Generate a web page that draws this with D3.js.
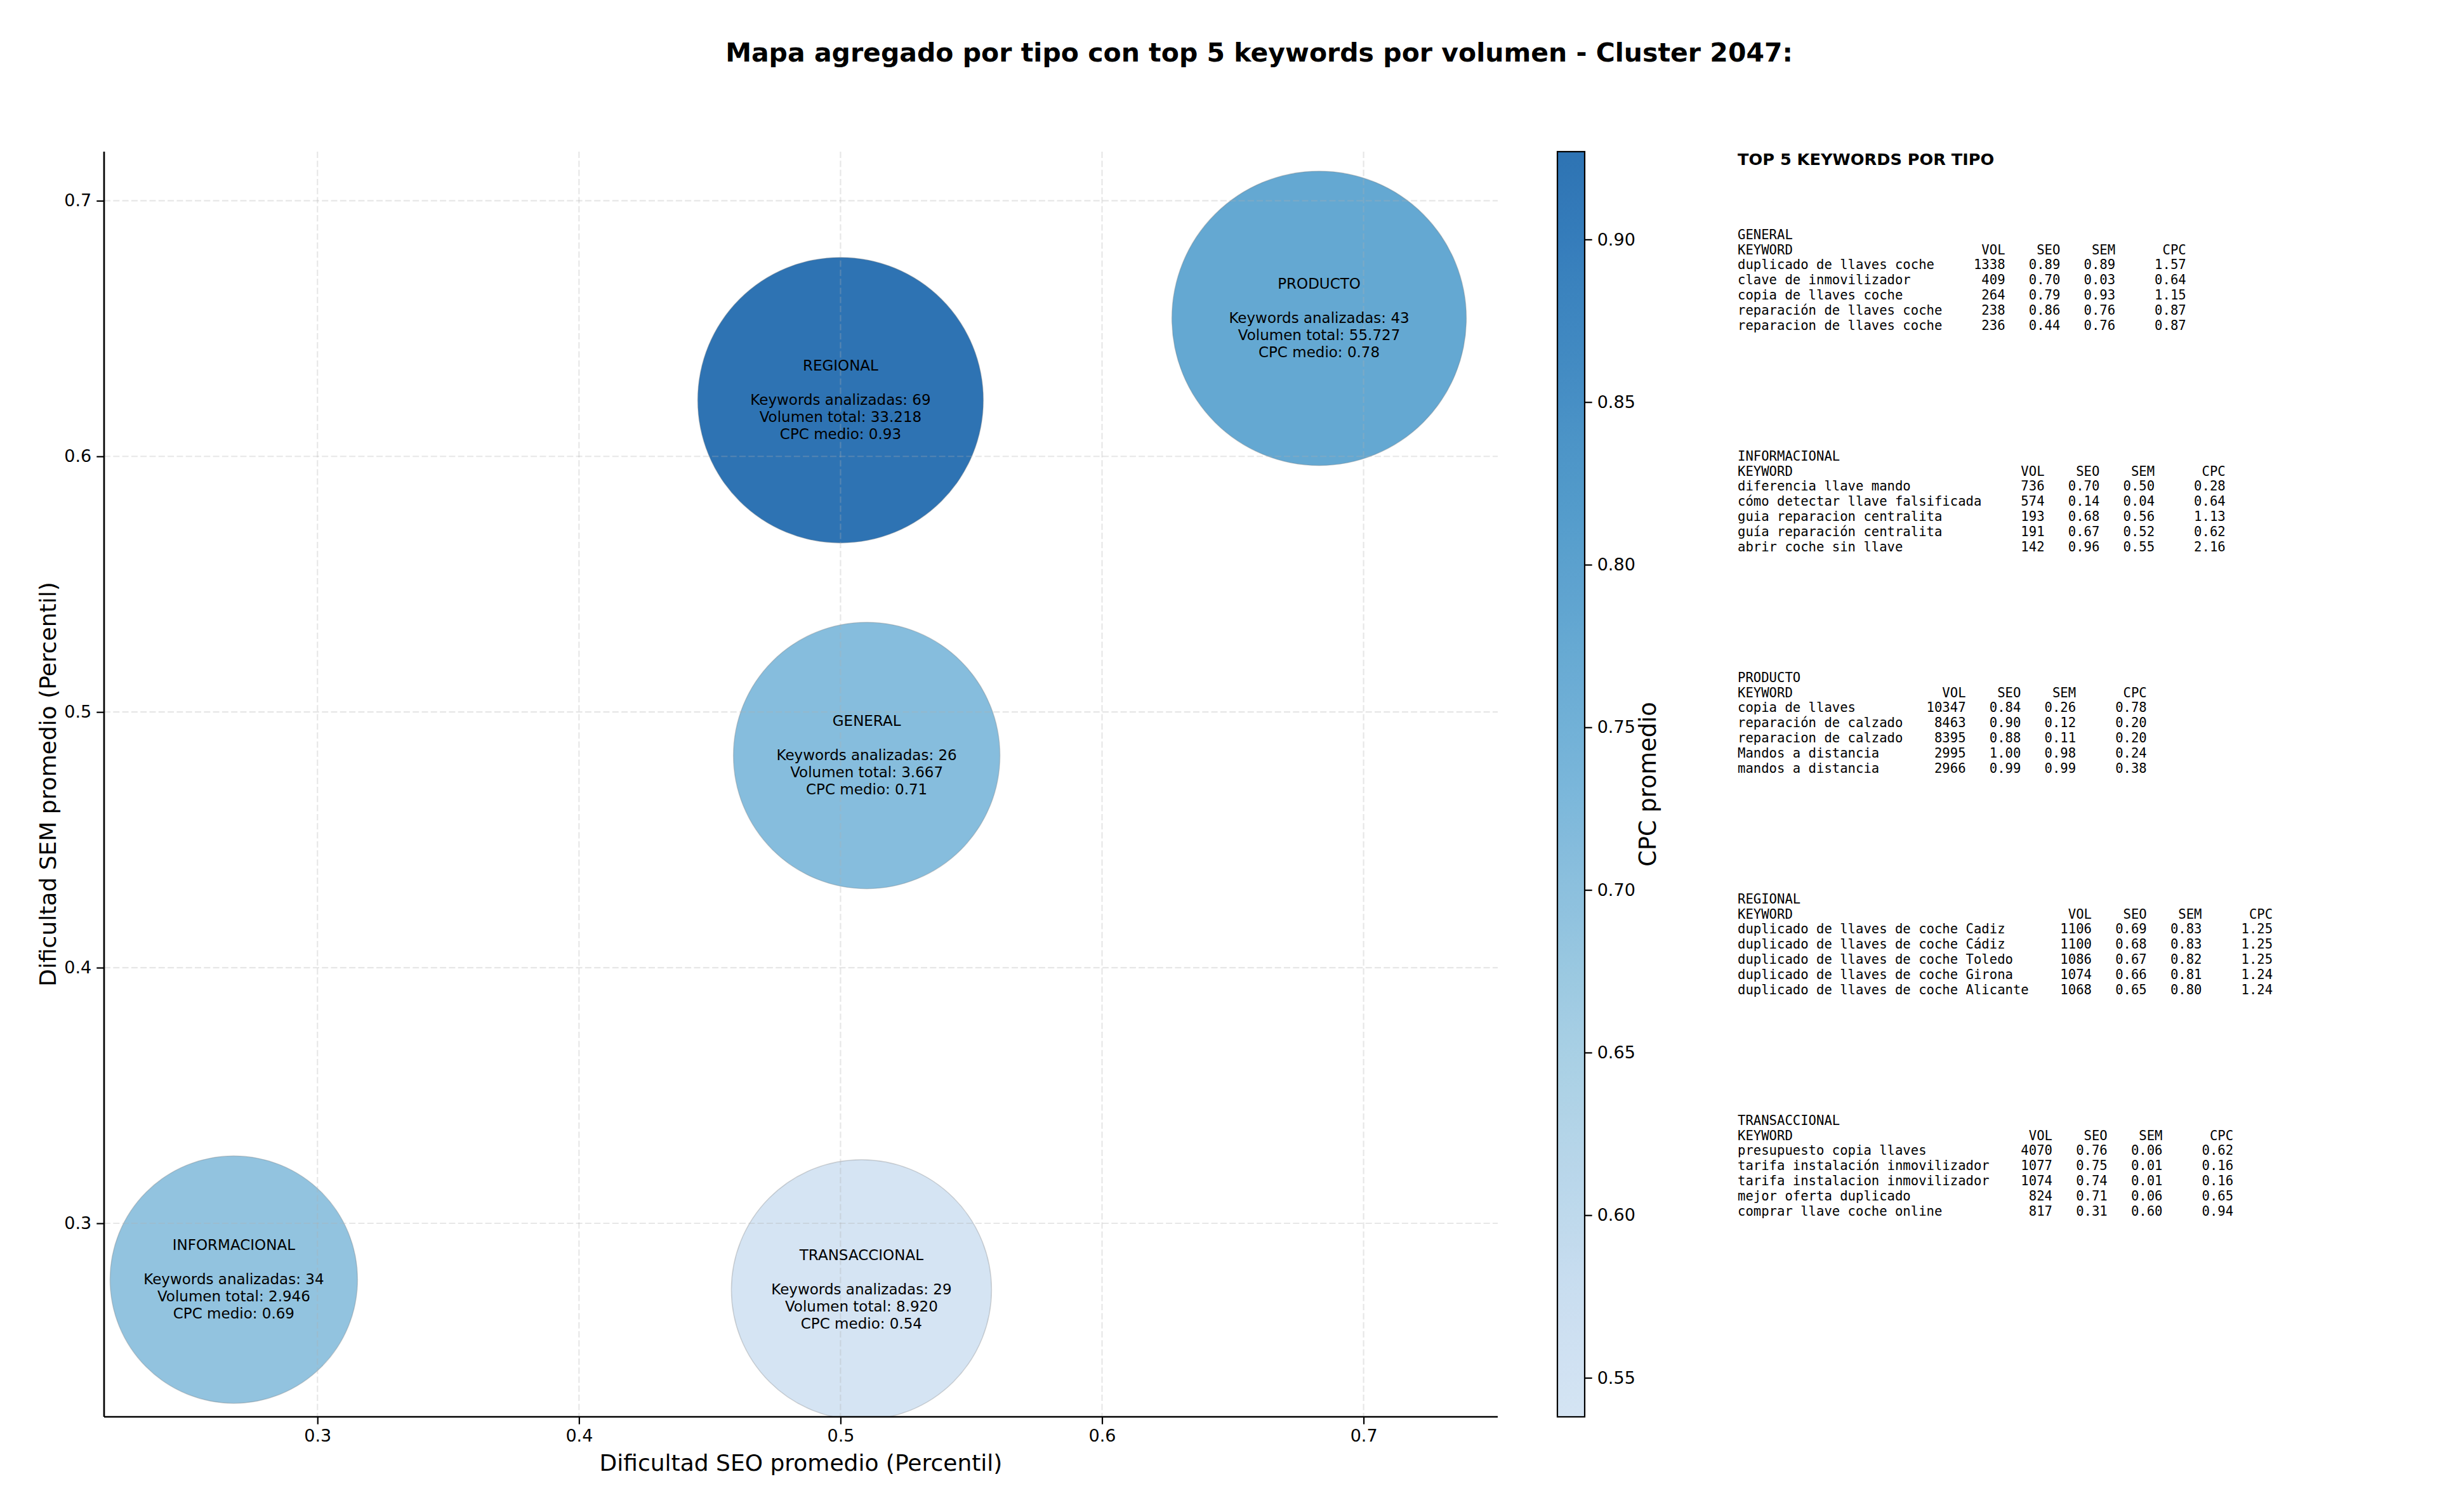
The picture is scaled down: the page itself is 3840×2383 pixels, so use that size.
<!DOCTYPE html>
<html>
<head>
<meta charset="utf-8">
<script src="https://cdn.jsdelivr.net/npm/d3@7"></script>
<style>
html,body{margin:0;padding:0;background:#fff;}
svg{display:block;}
text{font-family:"DejaVu Sans",sans-serif;}
.mono{font-family:"DejaVu Sans Mono",monospace;white-space:pre;}
</style>
</head>
<body>
<script>
// ---------------- DATA ----------------
const types      = ["GENERAL", "INFORMACIONAL", "PRODUCTO", "REGIONAL", "TRANSACCIONAL"];
const seoMean    = [0.510, 0.268, 0.683, 0.500, 0.508];
const semMean    = [0.483, 0.278, 0.654, 0.622, 0.274];
const cpcMean    = [0.71, 0.69, 0.78, 0.927, 0.538];
const kwCount    = [26, 34, 43, 69, 29];
const volTotal   = [3667, 2946, 55727, 33218, 8920];
const bubbleSize = [15876, 13689, 19377, 18225, 15129];   // marker area (pt^2)

const xTicks  = [0.3, 0.4, 0.5, 0.6, 0.7];
const yTicks  = [0.3, 0.4, 0.5, 0.6, 0.7];
const cbTicks = [0.55, 0.60, 0.65, 0.70, 0.75, 0.80, 0.85, 0.90];
const xLimits = [0.2184, 0.7513];
const yLimits = [0.2243, 0.7192];

// top 5 keywords per type: [keyword, VOL, SEO, SEM, CPC]
const topGeneral = [
  ["duplicado de llaves coche", 1338, 0.89, 0.89, 1.57],
  ["clave de inmovilizador", 409, 0.70, 0.03, 0.64],
  ["copia de llaves coche", 264, 0.79, 0.93, 1.15],
  ["reparación de llaves coche", 238, 0.86, 0.76, 0.87],
  ["reparacion de llaves coche", 236, 0.44, 0.76, 0.87]
];
const topInformacional = [
  ["diferencia llave mando", 736, 0.70, 0.50, 0.28],
  ["cómo detectar llave falsificada", 574, 0.14, 0.04, 0.64],
  ["guia reparacion centralita", 193, 0.68, 0.56, 1.13],
  ["guía reparación centralita", 191, 0.67, 0.52, 0.62],
  ["abrir coche sin llave", 142, 0.96, 0.55, 2.16]
];
const topProducto = [
  ["copia de llaves", 10347, 0.84, 0.26, 0.78],
  ["reparación de calzado", 8463, 0.90, 0.12, 0.20],
  ["reparacion de calzado", 8395, 0.88, 0.11, 0.20],
  ["Mandos a distancia", 2995, 1.00, 0.98, 0.24],
  ["mandos a distancia", 2966, 0.99, 0.99, 0.38]
];
const topRegional = [
  ["duplicado de llaves de coche Cadiz", 1106, 0.69, 0.83, 1.25],
  ["duplicado de llaves de coche Cádiz", 1100, 0.68, 0.83, 1.25],
  ["duplicado de llaves de coche Toledo", 1086, 0.67, 0.82, 1.25],
  ["duplicado de llaves de coche Girona", 1074, 0.66, 0.81, 1.24],
  ["duplicado de llaves de coche Alicante", 1068, 0.65, 0.80, 1.24]
];
const topTransaccional = [
  ["presupuesto copia llaves", 4070, 0.76, 0.06, 0.62],
  ["tarifa instalación inmovilizador", 1077, 0.75, 0.01, 0.16],
  ["tarifa instalacion inmovilizador", 1074, 0.74, 0.01, 0.16],
  ["mejor oferta duplicado", 824, 0.71, 0.06, 0.65],
  ["comprar llave coche online", 817, 0.31, 0.60, 0.94]
];
const topTables = [topGeneral, topInformacional, topProducto, topRegional, topTransaccional];

const titleText = "Mapa agregado por tipo con top 5 keywords por volumen - Cluster 2047:";
const xLabel = "Dificultad SEO promedio (Percentil)";
const yLabel = "Dificultad SEM promedio (Percentil)";
const cbLabel = "CPC promedio";
const panelTitle = "TOP 5 KEYWORDS POR TIPO";

// ---------------- LAYOUT ----------------
const W = 3840, H = 2383;
const plot = {left: 164, right: 2360, top: 239, bottom: 2233};
const cb = {left: 2454, right: 2497};

const svg = d3.select("body").append("svg").attr("width", W).attr("height", H);

const x = d3.scaleLinear().domain(xLimits).range([plot.left, plot.right]);
const y = d3.scaleLinear().domain(yLimits).range([plot.bottom, plot.top]);
const cpcExtent = d3.extent(cpcMean);
// matplotlib "Blues" (linear segments), truncated to [0.2, 0.8]
const bluesNodes = ["#f7fbff", "#deebf7", "#c6dbef", "#9ecae1", "#6baed6", "#4292c6", "#2171b5", "#08519c", "#08306b"];
const blues = d3.scaleLinear().domain(d3.range(9).map(i => i / 8)).range(bluesNodes).interpolate(d3.interpolateRgb);
const color = d3.scaleSequential(t => blues(0.2 + 0.6 * t)).domain(cpcExtent);
const fillAlpha = 0.9;
const r = d3.scaleSqrt().domain([0, d3.max(bubbleSize)]).range([0, 232]);

const locale = d3.formatLocale({decimal: ",", thousands: ".", grouping: [3], currency: ["", "€"]});
const fmtVol = locale.format(",d");

// title
svg.append("text").attr("x", 1984).attr("y", 97).attr("text-anchor", "middle")
  .style("font-size", "41px").style("font-weight", "bold").text(titleText);

// clip
const defs = svg.append("defs");
defs.append("clipPath").attr("id", "plotclip").append("rect")
  .attr("x", plot.left).attr("y", plot.top).attr("width", plot.right - plot.left).attr("height", plot.bottom - plot.top);

// bubbles
const data = types.map((t, i) => ({type: t, seo: seoMean[i], sem: semMean[i], cpc: cpcMean[i], n: kwCount[i], vol: volTotal[i], s: bubbleSize[i]}));
const gB = svg.append("g").attr("clip-path", "url(#plotclip)");
gB.selectAll("circle").data(data).join("circle")
  .attr("cx", d => x(d.seo)).attr("cy", d => y(d.sem)).attr("r", d => r(d.s))
  .attr("fill", d => color(d.cpc)).attr("fill-opacity", fillAlpha)
  .attr("stroke", "rgba(120,120,120,0.3)").attr("stroke-width", 1.5);

// grid (drawn over bubbles, like matplotlib)
const gGrid = svg.append("g");
gGrid.selectAll("line.gx").data(xTicks).join("line")
  .attr("x1", d => x(d)).attr("x2", d => x(d)).attr("y1", plot.top).attr("y2", plot.bottom)
  .attr("stroke", "#b0b0b0").attr("stroke-opacity", 0.3).attr("stroke-width", 2.2).attr("stroke-dasharray", "10,4.3");
gGrid.selectAll("line.gy").data(yTicks).join("line")
  .attr("y1", d => y(d)).attr("y2", d => y(d)).attr("x1", plot.left).attr("x2", plot.right)
  .attr("stroke", "#b0b0b0").attr("stroke-opacity", 0.3).attr("stroke-width", 2.2).attr("stroke-dasharray", "10,4.3");

// bubble labels
const lh = 27;
data.forEach(d => {
  const lines = [d.type, "", "Keywords analizadas: " + d.n, "Volumen total: " + fmtVol(d.vol), "CPC medio: " + d.cpc.toFixed(2)];
  const cx = x(d.seo), cy = y(d.sem);
  const t = svg.append("text").attr("text-anchor", "middle").style("font-size", "23px").attr("fill", "#000");
  lines.forEach((ln, i) => {
    t.append("tspan").attr("x", cx).attr("y", cy + (i - 2) * lh + 7).text(ln);
  });
});

// axes
const xAxis = d3.axisBottom(x).tickValues(xTicks).tickFormat(d3.format(".1f")).tickSize(11.7).tickPadding(8);
const yAxis = d3.axisLeft(y).tickValues(yTicks).tickFormat(d3.format(".1f")).tickSize(11.7).tickPadding(8);
const gx = svg.append("g").attr("transform", `translate(0,${plot.bottom})`).call(xAxis);
const gy = svg.append("g").attr("transform", `translate(${plot.left},0)`).call(yAxis);
[gx, gy].forEach(g => {
  g.select(".domain").attr("stroke", "#000").attr("stroke-width", 2.7);
  g.selectAll(".tick line").attr("stroke", "#000").attr("stroke-width", 2.2);
  g.selectAll(".tick text").style("font-size", "27px").style("font-family", "DejaVu Sans").attr("fill", "#000");
});
gx.select(".domain").attr("d", `M${plot.left},0H${plot.right}`);
gy.select(".domain").attr("d", `M0,${plot.bottom}V${plot.top}`);

svg.append("text").attr("x", (plot.left + plot.right) / 2).attr("y", 2318).attr("text-anchor", "middle")
  .style("font-size", "36px").text(xLabel);
svg.append("text").attr("transform", `translate(88,${(plot.top + plot.bottom) / 2}) rotate(-90)`).attr("text-anchor", "middle")
  .style("font-size", "36px").text(yLabel);

// colorbar
const cbScale = d3.scaleLinear().domain(cpcExtent).range([plot.bottom, plot.top]);
const grad = defs.append("linearGradient").attr("id", "cbgrad")
  .attr("x1", 0).attr("y1", 1).attr("x2", 0).attr("y2", 0);
d3.range(0, 1.0001, 0.02).forEach(t => {
  grad.append("stop").attr("offset", t).attr("stop-color", color(cpcExtent[0] + t * (cpcExtent[1] - cpcExtent[0])));
});
svg.append("rect").attr("x", cb.left).attr("y", plot.top).attr("width", cb.right - cb.left).attr("height", plot.bottom - plot.top)
  .attr("fill", "url(#cbgrad)").attr("fill-opacity", fillAlpha).attr("stroke", "#000").attr("stroke-width", 2.2);
const cbAxis = d3.axisRight(cbScale).tickValues(cbTicks).tickFormat(d3.format(".2f")).tickSize(11.7).tickPadding(8);
const gcb = svg.append("g").attr("transform", `translate(${cb.right},0)`).call(cbAxis);
gcb.select(".domain").remove();
gcb.selectAll(".tick line").attr("stroke", "#000").attr("stroke-width", 2.2);
gcb.selectAll(".tick text").style("font-size", "27px").style("font-family", "DejaVu Sans").attr("fill", "#000");
svg.append("text").attr("transform", `translate(2609,${(plot.top + plot.bottom) / 2}) rotate(-90)`).attr("text-anchor", "middle")
  .style("font-size", "36.7px").text(cbLabel);

// right panel
const px = 2738;
svg.append("text").attr("x", px).attr("y", 260).style("font-size", "25.6px").style("font-weight", "bold").text(panelTitle);
const blockStart = 376.6, blockStep = 349, lineStep = 23.9;
topTables.forEach((rows, bi) => {
  const maxLen = d3.max(rows, r => r[0].length);
  const header = "KEYWORD".padEnd(maxLen) + "  " + "VOL".padStart(6) + " " + "SEO".padStart(6) + " " + "SEM".padStart(6) + " " + "CPC".padStart(8);
  const lines = [types[bi], header].concat(rows.map(r =>
    r[0].padEnd(maxLen) + "  " + String(r[1]).padStart(6) + " " + r[2].toFixed(2).padStart(6) + " " + r[3].toFixed(2).padStart(6) + " " + r[4].toFixed(2).padStart(8)));
  const t = svg.append("text").attr("class", "mono").style("font-size", "20.6px").attr("xml:space", "preserve");
  lines.forEach((ln, i) => {
    t.append("tspan").attr("x", px).attr("y", blockStart + bi * blockStep + i * lineStep).text(ln);
  });
});
</script>
</body>
</html>
